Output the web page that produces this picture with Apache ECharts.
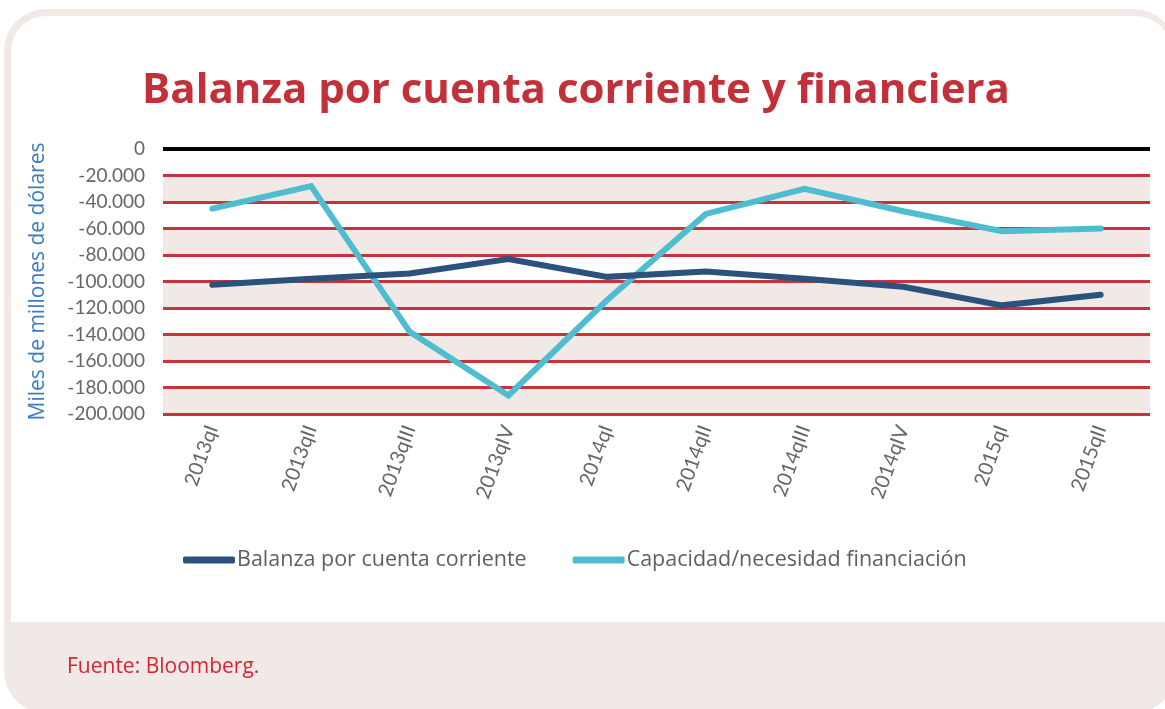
<!DOCTYPE html>
<html>
<head>
<meta charset="utf-8">
<script src="https://cdn.jsdelivr.net/npm/echarts@6/dist/echarts.min.js"></script>
<style>
html, body { margin: 0; padding: 0; background: #fff; }
#chart { width: 1165px; height: 709px; }
</style>
</head>
<body>
<div id="chart"></div>
<script>
var categories = ['2013qI', '2013qII', '2013qIII', '2013qIV', '2014qI', '2014qII', '2014qIII', '2014qIV', '2015qI', '2015qII'];
var balanza = [-102500, -98000, -94000, -83000, -96500, -92500, -98000, -104000, -118000, -110000];
var capacidad = [-45000, -28000, -138000, -186000, -114000, -49000, -30000, -47000, -62000, -60000];
var yMin = -200000, yMax = 0, yStep = 20000;

function fmt(v) {
    var s = String(Math.abs(v)).replace(/\B(?=(\d{3})+(?!\d))/g, '.');
    return (v < 0 ? '-' : '') + s;
}

// 10 red split lines, black one at zero
var lineColors = [];
for (var i = 0; i < 10; i++) lineColors.push('#c8323a');
lineColors.push('rgba(0,0,0,0)');

var chart = echarts.init(document.getElementById('chart'));
option = {
    backgroundColor: '#fff',
    textStyle: { fontFamily: 'Lato' },
    graphic: [
        { type: 'rect', z: -10, shape: { x: 4, y: 9, width: 1172, height: 704, r: 42 }, style: { fill: '#f1e9e6' } },
        { type: 'rect', z: -9, shape: { x: 11, y: 16, width: 1160, height: 606, r: [35, 35, 0, 0] }, style: { fill: '#fff' } },
        { type: 'text', left: 67, top: 657, style: { text: 'Fuente: Bloomberg.', fill: '#d42535', font: '21px "Open Sans"' } },
        { type: 'text', x: 576, y: 91, style: { text: 'Balanza por cuenta corriente y financiera', fill: '#c2303a', font: 'bold 42px "Open Sans"', textAlign: 'center', textVerticalAlign: 'middle' } }
    ],
    legend: {
        left: 183,
        top: 549,
        padding: 0,
        icon: 'roundRect',
        itemWidth: 52,
        itemHeight: 7,
        itemGap: 46,
        textStyle: { fontSize: 21.5, color: '#5f5f5f', fontFamily: 'Open Sans', padding: [0, 0, 0, -3] },
        data: ['Balanza por cuenta corriente', 'Capacidad/necesidad financiación']
    },
    grid: { left: 163, right: 15, top: 149, bottom: 295 },
    xAxis: {
        type: 'category',
        data: categories,
        axisLine: { show: false },
        axisTick: { show: false },
        axisLabel: { rotate: 70, margin: 12, fontSize: 20, color: '#666', fontFamily: 'Lato' }
    },
    yAxis: {
        type: 'value',
        min: yMin,
        max: yMax,
        interval: yStep,
        name: 'Miles de millones de dólares',
        nameLocation: 'middle',
        nameGap: 114,
        nameTextStyle: { fontSize: 21, color: '#3a7cc0', fontFamily: 'Open Sans' },
        axisLine: { show: false },
        axisTick: { show: false },
        axisLabel: { fontSize: 19, color: '#666', margin: 18, fontFamily: 'Lato', formatter: fmt },
        splitLine: { show: true, lineStyle: { color: lineColors, width: 3 } },
        splitArea: { show: true, areaStyle: { color: ['#f1e9e6', '#ffffff'] } }
    },
    series: [
        {
            name: 'Balanza por cuenta corriente',
            type: 'line',
            data: balanza,
            symbol: 'none',
            color: '#2b527d',
            lineStyle: { width: 6, cap: 'round', join: 'miter' },
            z: 3,
            markLine: {
                silent: true,
                symbol: 'none',
                label: { show: false },
                lineStyle: { color: '#000', width: 4, type: 'solid' },
                data: [{ yAxis: 0 }]
            }
        },
        {
            name: 'Capacidad/necesidad financiación',
            type: 'line',
            data: capacidad,
            symbol: 'none',
            color: '#4ebdd0',
            lineStyle: { width: 6, cap: 'round', join: 'miter' },
            z: 2
        }
    ]
};
chart.setOption(option);
</script>
</body>
</html>
